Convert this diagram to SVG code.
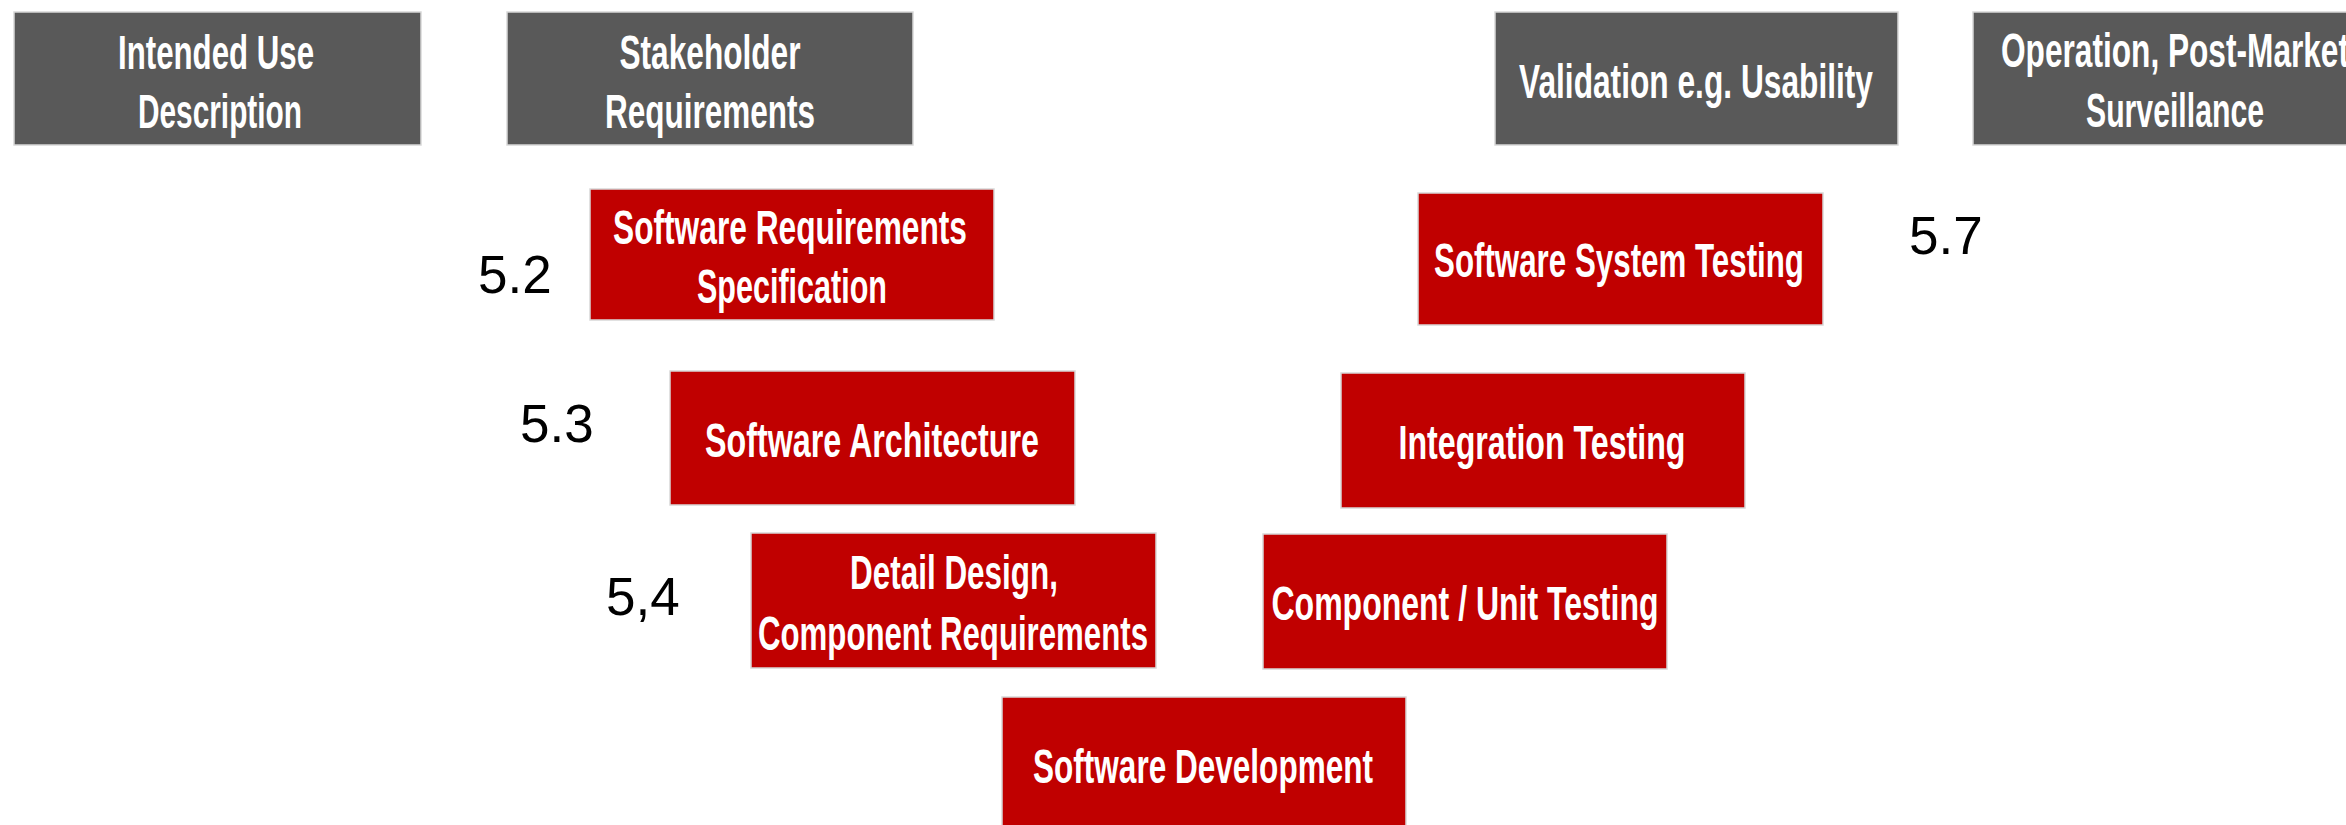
<svg xmlns="http://www.w3.org/2000/svg" width="2346" height="825" viewBox="0 0 2346 825">
<style>
.gray{fill:#595959}
.red{fill:#C00000}
.box{stroke:#d8d8d8;stroke-width:1.5}
.lbl{font-family:"Liberation Sans Narrow","Liberation Sans",Arial,sans-serif;font-weight:bold;font-size:49px;fill:#ffffff;text-anchor:middle}
.num{font-family:"Liberation Sans",Arial,sans-serif;font-size:53px;fill:#000000}
</style>
<rect width="2346" height="825" fill="#ffffff"/>
<g id="connectors"/>
<g id="intended-use">
<rect class="gray box" x="14" y="12" width="407" height="133"/>
<text class="lbl" x="216" y="69" textLength="196" lengthAdjust="spacingAndGlyphs">Intended Use</text>
<text class="lbl" x="220" y="128" textLength="164" lengthAdjust="spacingAndGlyphs">Description</text>
</g>
<g id="stakeholder-requirements">
<rect class="gray box" x="507" y="12" width="406" height="133"/>
<text class="lbl" x="710" y="69" textLength="181" lengthAdjust="spacingAndGlyphs">Stakeholder</text>
<text class="lbl" x="710" y="128" textLength="210" lengthAdjust="spacingAndGlyphs">Requirements</text>
</g>
<g id="validation">
<rect class="gray box" x="1495" y="12" width="403" height="133"/>
<text class="lbl" x="1696" y="98" textLength="354" lengthAdjust="spacingAndGlyphs">Validation e.g. Usability</text>
</g>
<g id="operation">
<rect class="gray box" x="1973" y="12" width="404" height="133"/>
<text class="lbl" x="2175" y="67" textLength="348" lengthAdjust="spacingAndGlyphs">Operation, Post-Market</text>
<text class="lbl" x="2175" y="127" textLength="178" lengthAdjust="spacingAndGlyphs">Surveillance</text>
</g>
<g id="software-requirements">
<rect class="red box" x="590" y="189" width="404" height="131"/>
<text class="lbl" x="790" y="244" textLength="354" lengthAdjust="spacingAndGlyphs">Software Requirements</text>
<text class="lbl" x="792" y="303" textLength="190" lengthAdjust="spacingAndGlyphs">Specification</text>
</g>
<g id="software-system-testing">
<rect class="red box" x="1418" y="193" width="405" height="132"/>
<text class="lbl" x="1619" y="277" textLength="370" lengthAdjust="spacingAndGlyphs">Software System Testing</text>
</g>
<g id="software-architecture">
<rect class="red box" x="670" y="371" width="405" height="134"/>
<text class="lbl" x="872" y="457" textLength="334" lengthAdjust="spacingAndGlyphs">Software Architecture</text>
</g>
<g id="integration-testing">
<rect class="red box" x="1341" y="373" width="404" height="135"/>
<text class="lbl" x="1542" y="459" textLength="287" lengthAdjust="spacingAndGlyphs">Integration Testing</text>
</g>
<g id="detail-design">
<rect class="red box" x="751" y="533" width="405" height="135"/>
<text class="lbl" x="954" y="589" textLength="208" lengthAdjust="spacingAndGlyphs">Detail Design,</text>
<text class="lbl" x="953" y="650" textLength="390" lengthAdjust="spacingAndGlyphs">Component Requirements</text>
</g>
<g id="unit-testing">
<rect class="red box" x="1263" y="534" width="404" height="135"/>
<text class="lbl" x="1465" y="620" textLength="387" lengthAdjust="spacingAndGlyphs">Component / Unit Testing</text>
</g>
<g id="software-development">
<rect class="red box" x="1002" y="697" width="404" height="134"/>
<text class="lbl" x="1203" y="783" textLength="340" lengthAdjust="spacingAndGlyphs">Software Development</text>
</g>
<g id="labels">
<text class="num" x="478" y="293">5.2</text>
<text class="num" x="520" y="442">5.3</text>
<text class="num" x="606" y="615">5,4</text>
<text class="num" x="1909" y="254">5.7</text>
</g>
</svg>
